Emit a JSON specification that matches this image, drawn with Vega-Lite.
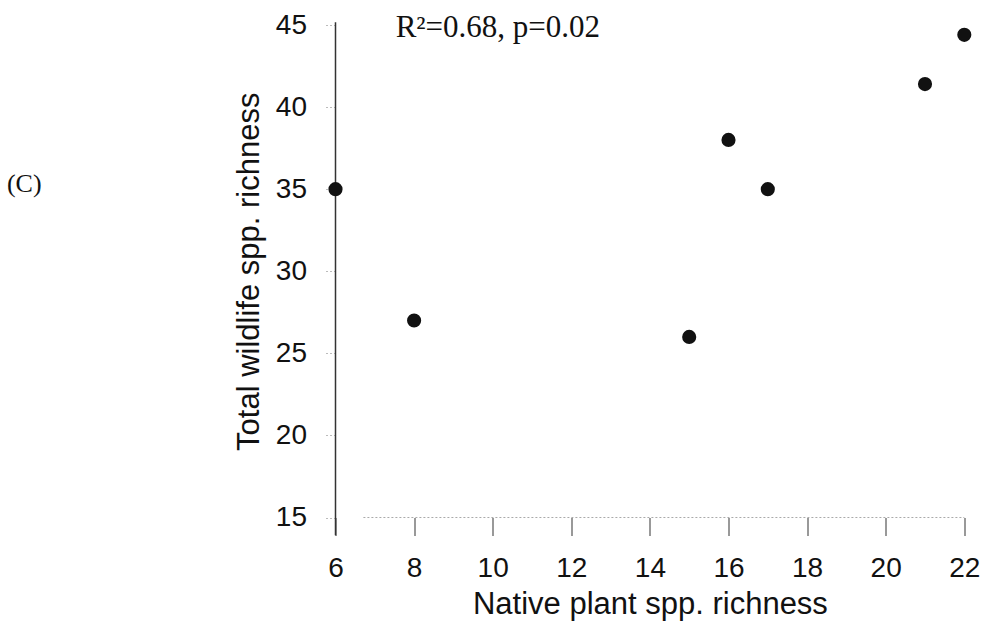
{
  "$schema": "https://vega.github.io/schema/vega-lite/v6.json",
  "width": 628.8,
  "height": 492.5,
  "autosize": {"type": "none"},
  "padding": {"left": 335.5, "top": 25, "right": 19.7, "bottom": 103.5},
  "background": "white",
  "config": {"view": {"stroke": null}},
  "encoding": {
    "x": {
      "field": "x", "type": "quantitative",
      "scale": {"domain": [6, 22], "nice": false, "zero": false},
      "axis": {
        "title": "Native plant spp. richness",
        "values": [6, 8, 10, 12, 14, 16, 18, 20, 22],
        "domain": false, "grid": false, "labelFlush": false, "labelOverlap": false,
        "tickSize": 18, "tickColor": "#555", "tickWidth": 1.2,
        "labelFont": "Liberation Sans", "labelFontSize": 28, "labelColor": "#111", "labelPadding": 19,
        "titleFont": "Liberation Sans", "titleFontSize": 31, "titleFontWeight": "normal", "titleColor": "#111", "titlePadding": 7
      }
    },
    "y": {
      "field": "y", "type": "quantitative",
      "scale": {"domain": [15, 45], "nice": false, "zero": false},
      "axis": {
        "title": "Total wildlife spp. richness",
        "values": [15, 20, 25, 30, 35, 40, 45],
        "domain": false, "grid": false, "labelFlush": false, "labelOverlap": false,
        "tickSize": 10, "tickColor": "#bbb", "tickDash": [2, 2],
        "labelFont": "Liberation Sans", "labelFontSize": 28, "labelColor": "#111", "labelPadding": 19,
        "titleFont": "Liberation Sans", "titleFontSize": 31, "titleFontWeight": "normal", "titleColor": "#111", "titlePadding": 10
      }
    }
  },
  "layer": [
    {
      "data": {"values": [{"x": 6, "y": 13.92, "y2": 45.16}]},
      "mark": {"type": "rule", "color": "#333", "strokeWidth": 1.5},
      "encoding": {"y2": {"field": "y2"}}
    },
    {
      "data": {"values": [{"x": 6.71, "x2": 22, "y": 15}]},
      "mark": {"type": "rule", "color": "#aaa", "strokeWidth": 1, "strokeDash": [2, 2]},
      "encoding": {"x2": {"field": "x2"}}
    },
    {
      "data": {"values": [
        {"x": 6, "y": 35},
        {"x": 8, "y": 27},
        {"x": 15, "y": 26},
        {"x": 16, "y": 38},
        {"x": 17, "y": 35},
        {"x": 21, "y": 41.4},
        {"x": 22, "y": 44.4}
      ]},
      "mark": {"type": "circle", "color": "#111", "opacity": 1, "size": 200}
    },
    {
      "data": {"values": [{"x": 7.53, "y": 44.29, "label": "R²=0.68, p=0.02"}]},
      "mark": {"type": "text", "font": "Liberation Serif", "fontSize": 31, "align": "left", "baseline": "alphabetic", "color": "#111"},
      "encoding": {"text": {"field": "label"}}
    },
    {
      "data": {"values": [{"x": -2.36, "y": 34.83, "label": "(C)"}]},
      "mark": {"type": "text", "font": "Liberation Serif", "fontSize": 26, "align": "left", "baseline": "alphabetic", "color": "#111"},
      "encoding": {"text": {"field": "label"}}
    }
  ]
}
